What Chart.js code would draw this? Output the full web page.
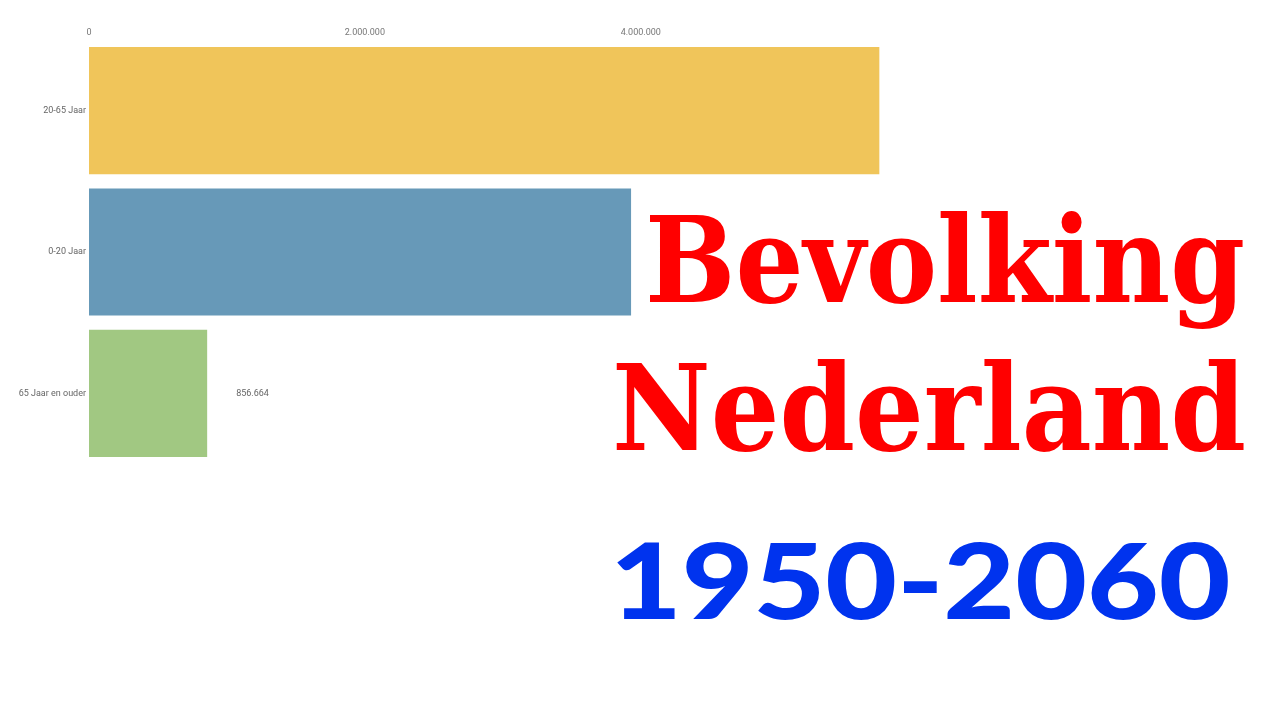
<!DOCTYPE html>
<html>
<head>
<meta charset="utf-8">
<script src="https://cdn.jsdelivr.net/npm/chart.js@4/dist/chart.umd.min.js"></script>
<style>
  html, body { margin: 0; padding: 0; background: #fff; }
  #wrap { position: relative; width: 1280px; height: 720px; overflow: hidden; }
  #canvas { position: absolute; left: 0; top: 0; }
  .title { position: absolute; white-space: nowrap; transform-origin: 0 0; line-height: 1; }
  #t1, #t2 { font-family: "DejaVu Serif", serif; font-weight: bold; color: #ff0000; }
  #t3 { font-family: Lato, "Noto Sans", sans-serif; font-weight: 900; color: #0033ee; }
</style>
</head>
<body>
<div id="wrap">
  <canvas id="canvas" width="1280" height="720"></canvas>
  <div class="title" id="t1">Bevolking</div>
  <div class="title" id="t2">Nederland</div>
  <div class="title" id="t3">1950-2060</div>
</div>
<script>
var categories = ["20-65 Jaar", "0-20 Jaar", "65 Jaar en ouder"];
var values = [5730000, 3930000, 856664];
var barColors = ["#f0c55a", "#6799b8", "#a1c882"];
var tickValues = [0, 2000000, 4000000];
var showValueFor = ["65 Jaar en ouder"];

var fmt = function (v) {
  return String(Math.round(v)).replace(/\B(?=(\d{3})+(?!\d))/g, ".");
};

var valueLabels = {
  id: "valueLabels",
  afterDatasetsDraw: function (chart) {
    var ctx = chart.ctx;
    var meta = chart.getDatasetMeta(0);
    ctx.save();
    ctx.font = "9px Roboto";
    ctx.fillStyle = "#666";
    ctx.textAlign = "left";
    ctx.textBaseline = "middle";
    meta.data.forEach(function (bar, i) {
      if (showValueFor.indexOf(categories[i]) < 0) return;
      ctx.fillText(fmt(values[i]), bar.x + 29, bar.y);
    });
    ctx.restore();
  }
};

window.onload = function () {
  var ctx = document.getElementById("canvas").getContext("2d");
  new Chart(ctx, {
    type: "bar",
    data: {
      labels: categories,
      datasets: [{
        data: values,
        backgroundColor: barColors,
        borderWidth: 0,
        barPercentage: 0.9,
        categoryPercentage: 1
      }]
    },
    options: {
      indexAxis: "y",
      responsive: false,
      animation: false,
      layout: { padding: { left: 0, right: 391, top: 0, bottom: 256 } },
      plugins: { legend: { display: false }, tooltip: { enabled: false } },
      scales: {
        x: {
          position: "top",
          min: 0,
          max: 5800000,
          afterBuildTicks: function (scale) {
            scale.ticks = tickValues.map(function (v) { return { value: v }; });
          },
          afterFit: function (scale) { scale.height = 40; },
          grid: { display: false, drawTicks: false },
          border: { display: false },
          ticks: {
            padding: 2,
            color: "#777",
            font: { family: "Roboto", size: 9 },
            maxRotation: 0,
            callback: function (v) { return fmt(v); }
          }
        },
        y: {
          afterFit: function (scale) { scale.width = 89; },
          grid: { display: false, drawTicks: false },
          border: { display: false },
          ticks: {
            padding: 3,
            color: "#666",
            font: { family: "Roboto", size: 9 }
          }
        }
      }
    },
    plugins: [valueLabels]
  });

  // fit title lines to the reference boxes
  var fit = function (id, left, top, width, size) {
    var el = document.getElementById(id);
    el.style.fontSize = size + "px";
    el.style.left = left + "px";
    el.style.top = top + "px";
    var s = width / el.offsetWidth;
    el.style.transform = "scaleX(" + s + ")";
  };
  fit("t1", 645, 200, 600, 120);
  fit("t2", 612, 348, 634, 120);
  fit("t3", 610, 527, 620, 104);
};
</script>
</body>
</html>
